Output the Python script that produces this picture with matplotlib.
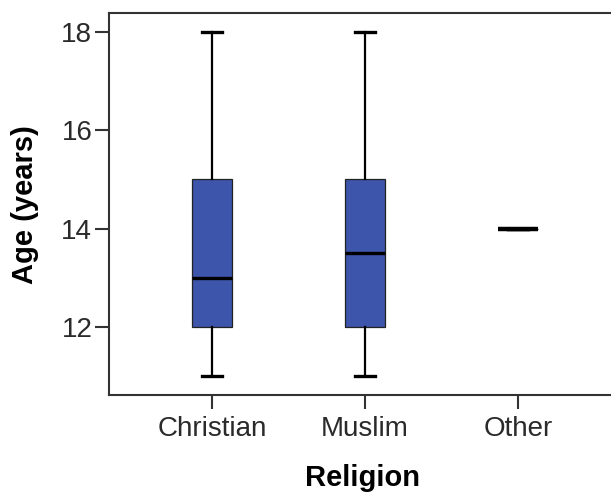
import matplotlib
matplotlib.use("Agg")
import matplotlib.pyplot as plt

# Age distribution by religion (five-number summaries)
religions = ["Christian", "Muslim", "Other"]
age_min = [11, 11, 14]
age_q1 = [12, 12, 14]
age_median = [13, 13.5, 14]
age_q3 = [15, 15, 14]
age_max = [18, 18, 14]
y_ticks = [12, 14, 16, 18]

plt.rcParams["font.family"] = ["Liberation Sans", "DejaVu Sans"]

fig = plt.figure(figsize=(6.11, 4.96), dpi=100)
ax = fig.add_axes([109 / 611, 1 - 395 / 496, 512 / 611, (395 - 13) / 496])

stats = []
for name, lo, q1, med, q3, hi in zip(religions, age_min, age_q1, age_median, age_q3, age_max):
    stats.append(dict(label=name, whislo=lo, q1=q1, med=med, q3=q3, whishi=hi, fliers=[]))

positions = list(range(len(religions)))
parts = ax.bxp(
    stats,
    positions=positions,
    widths=0.26,
    patch_artist=True,
    showfliers=False,
    capwidths=0.13,
    boxprops=dict(facecolor="#3d55aa", edgecolor="#222222", linewidth=0.9),
    whiskerprops=dict(color="black", linewidth=1.6),
    capprops=dict(color="black", linewidth=2.4),
    medianprops=dict(color="black", linewidth=2.4, solid_capstyle="butt"),
)
# a single-valued group collapses to just its median bar
for med, lo, hi in zip(parts["medians"], age_q1, age_q3):
    if lo == hi:
        med.set_linewidth(3.2)

ax.set_xlim(-0.673, 2.673)
ax.set_ylim(10.61, 18.39)
ax.set_yticks(y_ticks)
ax.set_yticklabels([str(t) for t in y_ticks])
ax.set_xticks(positions)
ax.set_xticklabels(religions)

for side in ["left", "bottom", "top", "right"]:
    ax.spines[side].set_color("#333333")
    ax.spines[side].set_linewidth(1.5)

ax.tick_params(axis="both", length=10, width=1.5, color="#333333",
               labelsize=20, labelcolor="#2a2a2a")
ax.tick_params(axis="y", pad=2)
ax.tick_params(axis="x", pad=5)

ax.set_xlabel("Religion", fontsize=21, fontweight="bold", color="black")
fig.text(25 / 611, 1 - 205 / 496, "Age (years)", rotation=90, fontsize=21,
         fontweight="bold", ha="center", va="center", color="black")
ax.xaxis.set_label_coords((362 - 109) / 512, -(478 - 395) / 382)
ax.xaxis.label.set_verticalalignment("center")

fig.savefig("out.png", dpi=100)
